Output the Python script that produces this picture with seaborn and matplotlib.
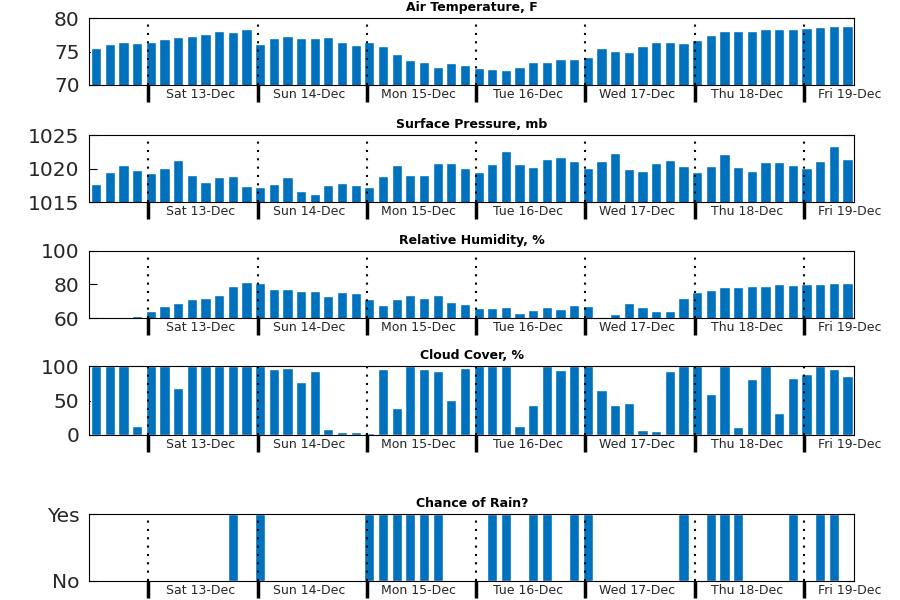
import numpy as np
import pandas as pd
import matplotlib
matplotlib.use("Agg")
import matplotlib.pyplot as plt
import seaborn as sns

# ---------------- data (3-hourly forecast, 56 steps) ----------------
day_labels = ["Sat 13-Dec", "Sun 14-Dec", "Mon 15-Dec", "Tue 16-Dec",
              "Wed 17-Dec", "Thu 18-Dec", "Fri 19-Dec"]

air_temp = [75.55, 76.15, 76.45, 76.3, 76.45, 76.9, 77.2, 77.35, 77.65, 78.1, 77.95, 78.4,
            76.15, 77.05, 77.35, 77.05, 77.05, 77.2, 76.45, 76.0,
            76.45, 75.85, 74.65, 73.75, 73.45, 72.7, 73.3, 73.0,
            72.55, 72.4, 72.25, 72.7, 73.45, 73.45, 73.9, 73.9,
            74.2, 75.55, 75.1, 74.95, 75.85, 76.45, 76.45, 76.3,
            76.75, 77.5, 78.1, 78.1, 78.1, 78.4, 78.4, 78.4,
            78.55, 78.7, 78.85, 78.85]

pressure = [1017.7, 1019.5, 1020.55, 1019.8, 1019.35, 1020.1, 1021.3, 1019.05, 1018.0, 1018.75, 1018.9, 1017.4,
            1017.25, 1017.7, 1018.75, 1016.65, 1016.2, 1017.55, 1017.85, 1017.55,
            1017.25, 1018.9, 1020.55, 1019.05, 1019.05, 1020.85, 1020.85, 1020.1,
            1019.5, 1020.7, 1022.65, 1020.7, 1020.25, 1021.45, 1021.75, 1021.15,
            1020.1, 1021.15, 1022.35, 1019.95, 1019.65, 1020.85, 1021.3, 1020.4,
            1019.5, 1020.4, 1022.2, 1020.25, 1019.65, 1021.0, 1021.0, 1020.55,
            1020.1, 1021.15, 1023.4, 1021.45]

humidity = [57, 58, 59, 61.2, 64.2, 67.1, 68.9, 71.3, 71.9, 73.7, 79.0, 81.4,
            80.8, 77.2, 77.2, 76.0, 76.0, 73.1, 75.4, 74.9,
            71.3, 67.7, 71.3, 73.7, 71.9, 73.7, 69.5, 68.3,
            65.9, 65.9, 66.5, 63.0, 64.8, 66.5, 65.3, 67.7,
            67.1, 59, 62.4, 68.9, 66.5, 64.2, 64.2, 71.9,
            75.4, 76.6, 78.4, 78.4, 79.0, 79.0, 80.2, 79.6,
            80.2, 80.2, 80.8, 80.8]

cloud = [100, 100, 100, 13, 100, 100, 68.4, 100, 100, 100, 100, 100,
         100, 96, 97.6, 77, 93, 8.7, 4.4, 4.4,
         2.9, 96, 39.3, 100, 96, 93, 51, 97.6,
         100, 100, 100, 13, 43.7, 100, 94.7, 100,
         100, 65.5, 43.7, 46.6, 7.3, 5.8, 93.2, 100,
         100, 59.7, 100, 11.7, 81.6, 100, 32, 83,
         88.8, 100, 96, 86]

rain = [0, 0, 0, 0, 0, 0, 0, 0, 0, 0, 1, 0,
        1, 0, 0, 0, 0, 0, 0, 0,
        1, 1, 1, 1, 1, 1, 0, 0,
        0, 1, 1, 0, 1, 1, 0, 1,
        1, 0, 0, 0, 0, 0, 0, 1,
        0, 1, 1, 1, 0, 0, 0, 1,
        0, 1, 1, 0]

titles = ["Air Temperature, F", "Surface Pressure, mb", "Relative Humidity, %",
          "Cloud Cover, %", "Chance of Rain?"]
ylims = [(70, 80), (1015, 1025), (60, 100), (0, 100), (0, 1)]
yticks = [[70, 75, 80], [1015, 1020, 1025], [60, 80, 100], [0, 50, 100], [0, 1]]
yticklabels = [["70", "75", "80"], ["1015", "1020", "1025"], ["60", "80", "100"],
               ["0", "50", "100"], ["No", "Yes"]]
series = [air_temp, pressure, humidity, cloud, rain]

# ---------------- style ----------------
sns.set_style("white")
plt.rcParams['font.family'] = ['DejaVu Sans']
BLUE = "#0072BD"
TXT = "#262626"

n = len(air_temp)
steps = np.arange(n)
first_midnight = 3.82          # step position of the first midnight
day_starts = [first_midnight + 8 * k for k in range(len(day_labels))]
xmin, xmax = -0.5, n - 0.5
label_pos = [min(d + 3.8, xmax - 0.3) for d in day_starts]

fig = plt.figure(figsize=(9, 6), dpi=100)
W, H = 900.0, 600.0
left_px, right_px = 89.3, 854.3
panel_px = [(18.3, 85), (135.3, 202), (250.7, 318), (366.3, 435), (514.3, 581)]

for i, (top, bot) in enumerate(panel_px):
    ax = fig.add_axes([left_px / W, 1 - bot / H, (right_px - left_px) / W, (bot - top) / H])
    df = pd.DataFrame({"step": steps, "value": series[i]})
    sns.barplot(data=df, x="step", y="value", ax=ax, color=BLUE, saturation=1,
                width=0.75, errorbar=None, zorder=2)
    ax.set_xlim(xmin, xmax)
    ax.set_ylim(*ylims[i])
    ax.set_xlabel("")
    ax.set_ylabel("")

    for d in day_starts:
        ax.axvline(d, color="black", linestyle=(0, (1, 3)), linewidth=1.5, zorder=3)

    ax.set_yticks(yticks[i])
    ax.set_yticklabels(yticklabels[i])
    ax.tick_params(axis="y", direction="in", length=6, width=0.8, left=True, right=True,
                   labelsize=14.5, pad=7, labelcolor=TXT, color="black")

    ax.set_xticks(day_starts)
    ax.set_xticklabels([])
    ax.set_xticks(label_pos, minor=True)
    ax.set_xticklabels(day_labels, minor=True)
    ax.tick_params(axis="x", which="major", direction="out", length=12, width=2.5,
                   bottom=True, top=False, color="black")
    ax.tick_params(axis="x", which="minor", length=0, labelsize=9, pad=2,
                   labelcolor=TXT, bottom=True, top=False)

    for sp in ax.spines.values():
        sp.set_color("black")
        sp.set_linewidth(0.8)
        sp.set_visible(True)

    ax.set_title(titles[i], fontsize=9, fontweight="bold", pad=5, color="black")

fig.savefig("out.png", dpi=100)
